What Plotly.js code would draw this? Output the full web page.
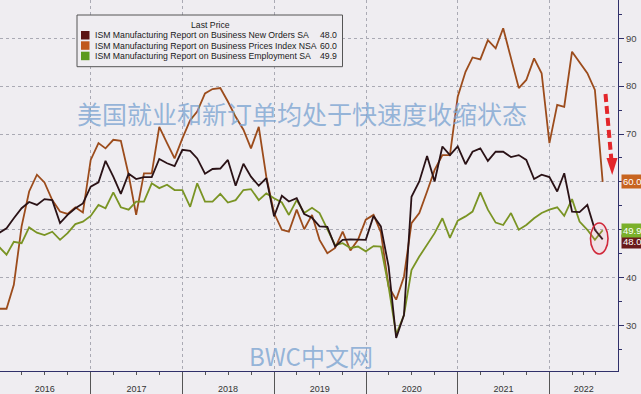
<!DOCTYPE html>
<html><head><meta charset="utf-8">
<script src="https://cdn.plot.ly/plotly-3.0.1.min.js"></script>
<style>html,body{margin:0;padding:0;background:#efedf1;}#chart{width:641px;height:394px;}</style>
</head><body><div id="chart"></div>
<script>
// ---- data (monthly, month-end points, Dec 2015 .. Jul 2022) ----
const firstMonth = [2015, 12];
const newOrders = [49.3,50.3,52.4,54.5,55.8,55.2,56.4,56.2,51.4,53.1,54.5,55.5,
  59.0,59.9,64.4,61.1,57.5,61.7,60.6,61.0,61.0,64.8,63.9,63.3,
  66.7,66.5,64.9,61.7,62.7,62.8,64.6,59.2,63.8,61.1,59.2,60.8,
  52.8,57.1,55.9,56.6,53.3,52.5,50.7,50.6,46.5,47.9,48.0,47.9,
  47.9,52.9,50.7,42.3,27.4,32.2,56.9,60.1,65.4,60.1,67.4,65.6,
  67.4,63.7,66.3,67.0,64.4,66.3,66.3,65.2,65.6,64.6,60.6,61.5,
  61.0,58.0,61.8,53.8,53.7,55.2,50.0,48.0];
const prices = [33.5,33.5,38.5,50.7,58.0,61.5,59.9,56.2,53.8,53.3,54.7,53.6,
  64.6,68.1,67.0,68.8,68.6,61.5,53.1,61.8,61.8,71.5,68.1,64.9,
  69.1,72.9,74.7,78.5,79.4,79.6,76.8,73.6,70.9,67.0,71.5,61.1,
  53.5,50.0,49.6,54.2,50.1,53.1,47.9,45.1,46.2,49.6,45.7,47.9,
  52.1,53.1,49.5,38.1,35.4,40.2,51.4,53.5,58.0,62.5,65.6,65.6,
  77.8,83.0,86.0,85.6,89.6,87.9,92.1,85.8,79.6,81.3,85.8,82.7,
  68.1,76.1,75.7,87.2,85.1,82.7,79.2,60.0];
const employment = [46.5,44.8,47.5,47.2,50.5,49.4,48.9,49.6,47.9,49.3,51.2,51.7,
  52.9,55.2,54.5,57.8,54.7,54.2,55.9,55.9,59.7,58.7,59.4,58.3,
  58.3,54.8,59.7,55.9,55.9,57.5,55.7,56.2,58.3,58.5,56.2,57.6,
  56.6,55.7,53.1,56.2,53.5,54.6,53.5,50.0,46.8,47.2,46.2,46.5,
  45.5,46.6,46.5,38.1,28.1,32.2,41.6,44.4,46.8,49.3,52.4,48.3,
  51.9,52.8,53.8,57.8,54.2,51.5,51.0,53.5,50.0,51.0,52.4,53.5,
  54.2,54.7,52.9,56.4,51.7,50.0,47.9,49.9];
const seriesNames = ['ISM Manufacturing Report on Business New Orders SA',
  'ISM Manufacturing Report on Business Prices Index NSA',
  'ISM Manufacturing Report on Business Employment SA'];
const yearLabels = ['2016','2017','2018','2019','2020','2021','2022'];
const yTickVals = [30,40,50,60,70,80,90];
const yTickText = ['30','40','','','70','80','90'];   // 50 and 60 sit under the last-value tags
const legendTitle = 'Last Price';
const chartTitle = '美国就业和新订单均处于快速度收缩状态';
const watermark = 'BWC中文网';

// ---- helpers ----
function pad(n){return (n<10?'0':'')+n;}
function iso(t){return new Date(t).toISOString().slice(0,10);}
function monthEnds(y, m, n){
  const out=[];
  for(let i=0;i<n;i++){
    const d=new Date(Date.UTC(y, m-1+i+1, 0));
    out.push(d.getUTCFullYear()+'-'+pad(d.getUTCMonth()+1)+'-'+pad(d.getUTCDate()));
  }
  return out;
}
const dates = monthEnds(firstMonth[0], firstMonth[1], newOrders.length);
const xRange = ['2016-01-05','2022-09-30'];
const r0 = Date.parse(xRange[0]), r1 = Date.parse(xRange[1]);

// x ticks: quarter marks (Apr/Jul/Oct) with the year label at the middle of each visible year
const xTickVals = [], xTickText = [];
yearLabels.forEach(y=>{
  const Y=+y;
  const a=Math.max(Date.UTC(Y,0,1), r0), b=Math.min(Date.UTC(Y+1,0,1), r1);
  const full = (b-a) > 360*864e5;
  [3,6,9].forEach(m=>{
    const t=Date.UTC(Y,m,1);
    if(t>r1) return;
    if(m===6 && full){ xTickVals.push(iso(t)); xTickText.push(y); }
    else { xTickVals.push(iso(t)); xTickText.push(''); }
  });
  if(!full){ xTickVals.push(iso((a+b)/2)); xTickText.push(y); }
});

const C_NO='#2a1216', C_PR='#9c4c1c', C_EM='#7a9424';
const TAG_NO='#6a1a1a', TAG_PR='#c8641f', TAG_EM='#7ab02a';
const SQ_NO='#5a1414', SQ_PR='#c0581c', SQ_EM='#5c9a1e';

const PW=618, PH=371;
const px = x => x/PW, py = y => 1 - y/PH;

const traces = [
  {x:dates, y:prices, type:'scatter', mode:'lines', name:seriesNames[1], line:{color:C_PR, width:1.8}},
  {x:dates, y:employment, type:'scatter', mode:'lines', name:seriesNames[2], line:{color:C_EM, width:1.8}},
  {x:dates, y:newOrders, type:'scatter', mode:'lines', name:seriesNames[0], line:{color:C_NO, width:1.8}}
];

const lastNO = newOrders[newOrders.length-1], lastPR = prices[prices.length-1], lastEM = employment[employment.length-1];
const legFont = {family:'Liberation Sans, Arial, sans-serif', size:8.7, color:'#1a1a1a'};
const wmColor = 'rgba(125,165,210,0.8)';
function note(x, y, text, font, xanchor){
  return {xref:'paper', yref:'paper', x:x, y:y, text:text, showarrow:false, font:font,
          xanchor:xanchor||'center', yanchor:'middle'};
}
const tagFont = {family:'Liberation Sans, Arial, sans-serif', size:9.5, color:'#fff'};
function tag(val, yv, bg){
  return {xref:'paper', yref:'y', x:1, y:yv, xanchor:'left', yanchor:'middle', xshift:3,
          text:val.toFixed(1), showarrow:false, bgcolor:bg, borderpad:1, font:tagFont};
}

const annotations = [
  note(px(302), py(113), chartTitle, {family:'Noto Sans CJK SC, sans-serif', size:25, color:wmColor}),
  note(px(311), py(355), watermark, {family:'Noto Sans CJK SC, sans-serif', size:24, color:wmColor}),
  note(px(210), py(25), legendTitle, legFont),
  note(px(92.5), py(35.3), seriesNames[0], legFont, 'left'),
  note(px(92.5), py(45.6), seriesNames[1], legFont, 'left'),
  note(px(92.5), py(56), seriesNames[2], legFont, 'left'),
  note(px(339), py(35.3), lastNO.toFixed(1), legFont, 'right'),
  note(px(339), py(45.6), lastPR.toFixed(1), legFont, 'right'),
  note(px(339), py(56), lastEM.toFixed(1), legFont, 'right'),
  tag(lastPR, lastPR, TAG_PR),
  tag(lastNO, lastNO-0.4, TAG_NO),
  tag(lastEM, lastEM, TAG_EM)
];

const shapes = [
  {type:'rect', xref:'paper', yref:'paper', x0:px(77), x1:px(342.5), y0:py(15), y1:py(66.7),
   line:{color:'#555', width:1}, fillcolor:'#efedf1', layer:'above'},
  {type:'rect', xref:'paper', yref:'paper', x0:px(81), x1:px(89.5), y0:py(31), y1:py(39.5), line:{width:0}, fillcolor:SQ_NO},
  {type:'rect', xref:'paper', yref:'paper', x0:px(81), x1:px(89.5), y0:py(41.3), y1:py(49.8), line:{width:0}, fillcolor:SQ_PR},
  {type:'rect', xref:'paper', yref:'paper', x0:px(81), x1:px(89.5), y0:py(51.7), y1:py(60.2), line:{width:0}, fillcolor:SQ_EM},
  {type:'line', xref:'paper', yref:'paper', x0:px(605.5), x1:px(611.3), y0:py(94), y1:py(159),
   line:{color:'#e3262b', width:4, dash:'8px,4px'}},
  {type:'path', xref:'paper', yref:'paper',
   path:'M '+px(606.5)+' '+py(158)+' L '+px(617.5)+' '+py(158)+' L '+px(612.2)+' '+py(175)+' Z',
   line:{width:0}, fillcolor:'#e3262b'},
  {type:'circle', xref:'paper', yref:'paper', x0:px(590.5), x1:px(608), y0:py(223), y1:py(254),
   line:{color:'#d0283a', width:1.6}, fillcolor:'rgba(255,140,160,0.12)'}
];

const layout = {
  width:641, height:394, margin:{l:0, r:23, t:0, b:23},
  paper_bgcolor:'#efedf1', plot_bgcolor:'#efedf1', showlegend:false,
  font:{family:'Liberation Sans, Arial, sans-serif', color:'#333'},
  xaxis:{type:'date', range:xRange, tickmode:'array', tickvals:xTickVals, ticktext:xTickText,
    ticks:'outside', ticklen:3, tickwidth:1, tickcolor:'#555',
    showgrid:false, showline:true, linecolor:'#30306a', linewidth:1, zeroline:false,
    tickfont:{size:9, color:'#333'}, ticklabelstandoff:6,
    minor:{tickmode:'linear', dtick:'M12', tick0:'2016-01-01', ticks:'outside', ticklen:23, tickwidth:1,
      tickcolor:'#555', showgrid:true, gridcolor:'#aaaab4', griddash:'dot', gridwidth:1}},
  yaxis:{side:'right', range:[20.5, 98], tickmode:'array', tickvals:yTickVals, ticktext:yTickText,
    ticks:'outside', ticklen:5, tickcolor:'#30306a', showline:true, linecolor:'#30306a', linewidth:1,
    showgrid:true, gridcolor:'#aaaab4', griddash:'dot', gridwidth:1, zeroline:false,
    tickfont:{size:9.5, color:'#444'},
    minor:{tickmode:'linear', dtick:5, tick0:0, ticks:'outside', ticklen:3, tickcolor:'#30306a', showgrid:false}},
  annotations:annotations, shapes:shapes
};

Plotly.newPlot('chart', traces, layout, {displayModeBar:false, staticPlot:true});
</script>
</body></html>
